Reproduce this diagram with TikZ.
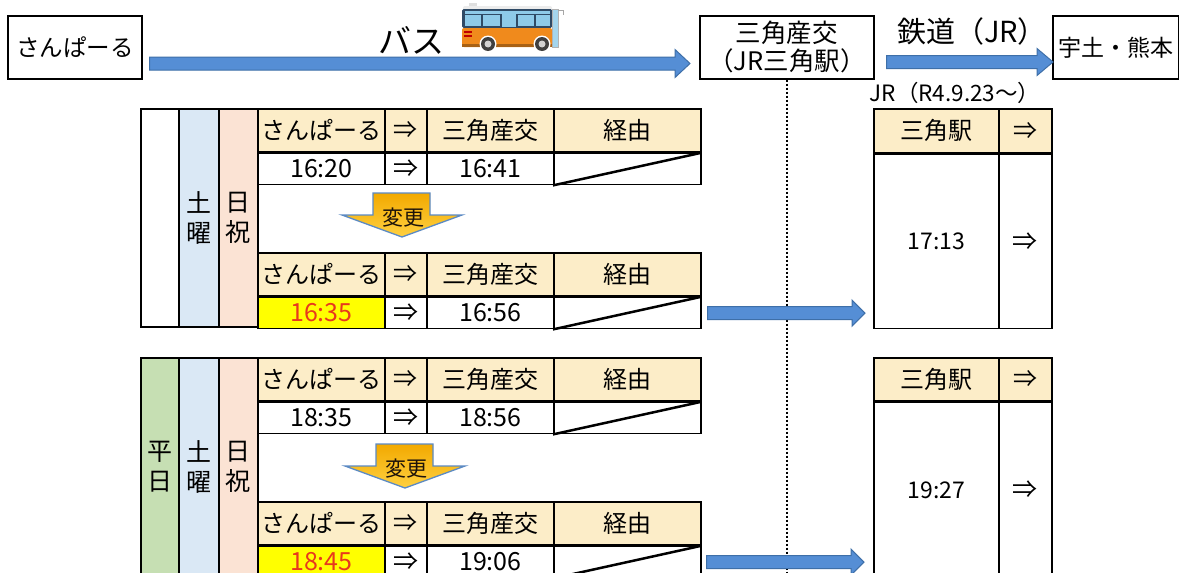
\documentclass[tikz,border=0pt]{standalone}
\usepackage{fontspec}
\setmainfont{Noto Sans CJK JP}
\usetikzlibrary{calc}
\definecolor{hdrbg}{HTML}{FCEDC8}
\definecolor{satbg}{HTML}{DAE8F5}
\definecolor{holbg}{HTML}{FBE3D4}
\definecolor{wkdbg}{HTML}{C6DFB3}
\definecolor{chgbg}{HTML}{FFFF00}
\definecolor{chgtx}{HTML}{E8391D}
\definecolor{arrfill}{HTML}{558ED5}
\definecolor{arredge}{HTML}{3E6FA8}
\definecolor{chgtop}{HTML}{F2A900}
\definecolor{chgbot}{HTML}{FFD040}
\definecolor{chgedge}{HTML}{5B8AC4}
\definecolor{busorange}{HTML}{F08A1C}
\definecolor{buswin}{HTML}{8ECAE9}
\definecolor{busframe}{HTML}{2F4A66}
\tikzset{
  box/.style={draw, line width=1.7pt, inner sep=0pt, anchor=north west},
  fA/.style={font=\fontsize{24pt}{30pt}\selectfont},
  cellbox/.style={box, fA},
  hdr/.style={cellbox, fill=hdrbg, minimum height=43pt},
  trow/.style={cellbox, fill=white, minimum height=31pt, font=\fontsize{25pt}{28pt}\selectfont},
  chg/.style={fill=chgbg, text=chgtx},
  wA/.style={minimum width=127pt},
  wB/.style={minimum width=42pt},
  wC/.style={minimum width=127pt},
  wD/.style={minimum width=147pt},
  diag/.style={line width=2.5pt},
  barrow/.style={draw=arredge, fill=arrfill, line width=1pt},
  dotline/.style={line width=1.8pt, dash pattern=on 2pt off 2pt},
  chgshape/.style={draw=chgedge, line width=1.3pt, top color=chgtop, bottom color=chgbot},
  chgtext/.style={font=\fontsize{21pt}{22pt}\selectfont, text={black!85!brown}},
  sidecol/.style={box, font=\fontsize{25pt}{30pt}\selectfont, align=center, minimum height=218pt}
}
% one header row + one time row of the bus table
\newcommand\fourrow[5]{%
  \node[hdr,wA] (#1h1) at (257,#2) {さんぱーる};
  \node[hdr,wB] (#1h2) at (384,#2) {⇒};
  \node[hdr,wC] (#1h3) at (426,#2) {三角産交};
  \node[hdr,wD] (#1h4) at (553,#2) {経由};
  \node[trow,wA,#5] (#1t1) at (#1h1.south west) {#3};
  \node[trow,wB] (#1t2) at (#1h2.south west) {⇒};
  \node[trow,wC] (#1t3) at (#1h3.south west) {#4};
  \node[trow,wD] (#1t4) at (#1h4.south west) {};
  \draw[diag] (#1t4.south west) -- (#1t4.north east);
}
% block arrow between two named coordinates: shaft half, head half, head length
\newcommand\blockarrow[5]{%
  \path[barrow] let \p1=(#1), \p2=(#2) in
    (\x1,{\y1+#3pt}) -- ({\x2-#5pt},{\y1+#3pt}) -- ({\x2-#5pt},{\y1+#4pt}) -- (\x2,\y1)
    -- ({\x2-#5pt},{\y1-#4pt}) -- ({\x2-#5pt},{\y1-#3pt}) -- (\x1,{\y1-#3pt}) -- cycle;
}
\newcommand\henkoshape{%
  \path[chgshape] (373,193) -- (430,193) -- (430,215) -- (462,215) -- (402,237)
    -- (342,215) -- (373,215) -- cycle;
}
\begin{document}
\begin{tikzpicture}[x=1pt,y=-1pt]
\useasboundingbox (0,0) rectangle (1179,573);
\clip (0,0) rectangle (1179,573);
\fill[white] (0,0) rectangle (1179,573);

% ---------- top row ----------
\node[box, minimum width=134pt, minimum height=63pt, font=\fontsize{23.5pt}{26pt}\selectfont] (sanpal) at (7,15) {さんぱーる};
\node[box, minimum width=174pt, minimum height=63pt, align=center, font=\fontsize{25.5pt}{28pt}\selectfont] (misumi) at (699,15) {三角産交\\（JR三角駅）};
\node[box, minimum width=126pt, minimum height=63pt, font=\fontsize{23pt}{26pt}\selectfont] (uto) at (1052,15) {宇土・熊本};
\node[font=\fontsize{33pt}{36pt}\selectfont] (bustxt) at (411,40) {バス};
\node[font=\fontsize{29pt}{32pt}\selectfont] (railtxt) at (972,31) {鉄道（JR）};
\node[font=\fontsize{22.5pt}{24pt}\selectfont] (jrdate) at (955,93) {JR（R4.9.23～）};

% bus icon
\fill[gray!25] (469,3) rectangle (477,8);
\fill[gray!15, rounded corners=2pt] (463,6) rectangle (552,11);
\fill[busframe, rounded corners=1.5pt] (462,9) rectangle (552,28);
\fill[buswin] (465,11) rectangle (550,13.5);
\fill[buswin] (465,15) rectangle (481,26);
\fill[buswin] (483,15) rectangle (500,26);
\fill[buswin] (502,13) rectangle (516,27);
\fill[buswin] (518,15) rectangle (534,26);
\fill[buswin] (536,15) rectangle (550,26);
\fill[busorange, rounded corners=2pt] (462,28) rectangle (552,47);
\fill[busorange!70!black] (462,44) rectangle (552,47);
\fill[red!75!black] (464,31) rectangle (472,33);
\fill[red!75!black] (464,34.5) rectangle (472,36.5);
\fill[buswin!80!white, draw=gray!60, line width=0.5pt] (552,9) rectangle (558,47);
\draw[gray!70, line width=1pt] (558,10) -- (563,10) -- (563,15);
\fill[white] (488,44) circle (8.5);
\fill[white] (542,44) circle (8.5);
\fill[black!75] (488,44) circle (7);
\fill[black!75] (542,44) circle (7);
\fill[gray!35] (488,44) circle (3.5);
\fill[gray!35] (542,44) circle (3.5);

% dotted line under 三角産交
\coordinate (bottomline) at (0,580);
\draw[dotline] (misumi.south) -- (misumi.south |- bottomline);

% top arrows
\coordinate (busrow) at (0,63.5);
\coordinate (railrow) at (0,62);
\coordinate (busS) at ([xshift=7pt]sanpal.east |- busrow);
\coordinate (busE) at ([xshift=-9pt]misumi.west |- busrow);
\coordinate (railS) at ([xshift=12pt]misumi.east |- railrow);
\coordinate (railE) at ([xshift=1pt]uto.west |- railrow);
\blockarrow{busS}{busE}{6.5}{14}{15}
\blockarrow{railS}{railE}{6.5}{13.5}{16}

% ---------- upper block (土曜・日祝) ----------
\node[sidecol, fill=white, minimum width=38pt] (ucol0) at (140,108) {};
\node[sidecol, fill=satbg, minimum width=40pt] (ucol1) at (178,108) {土\\曜};
\node[sidecol, fill=holbg, minimum width=39pt] (ucol2) at (218,108) {日\\祝};
\fourrow{ua}{108}{16:20}{16:41}{}
\fourrow{ub}{252}{16:35}{16:56}{chg}
\henkoshape
\node[chgtext] (uchg) at (403,218) {変更};

\node[hdr, minimum width=125pt, minimum height=44pt] (rua) at (873,108) {三角駅};
\node[hdr, minimum width=53pt, minimum height=44pt] (rub) at (998,108) {⇒};
\node[trow, minimum width=125pt, minimum height=174pt, font=\fontsize{23pt}{26pt}\selectfont] (ruc) at (rua.south west) {17:13};
\node[trow, minimum width=53pt, minimum height=174pt] (rud) at (rub.south west) {⇒};

\coordinate (uaS) at ([xshift=6pt]ubt4.east);
\coordinate (uaE) at ([xshift=-8pt]ruc.west |- ubt4.east);
\blockarrow{uaS}{uaE}{6.5}{13}{13}

% ---------- lower block (平日・土曜・日祝) ----------
\node[sidecol, fill=wkdbg, minimum width=38pt] (lcol0) at (140,357) {平\\日};
\node[sidecol, fill=satbg, minimum width=40pt] (lcol1) at (178,357) {土\\曜};
\node[sidecol, fill=holbg, minimum width=39pt] (lcol2) at (218,357) {日\\祝};
\fourrow{la}{357}{18:35}{18:56}{}
\fourrow{lb}{501}{18:45}{19:06}{chg}
\begin{scope}[shift={(3,251)}]
\henkoshape
\node[chgtext] (lchg) at (403,218) {変更};
\end{scope}

\node[hdr, minimum width=125pt, minimum height=43pt] (rla) at (873,357) {三角駅};
\node[hdr, minimum width=53pt, minimum height=43pt] (rlb) at (998,357) {⇒};
\node[trow, minimum width=125pt, minimum height=175pt, font=\fontsize{23pt}{26pt}\selectfont] (rlc) at (rla.south west) {19:27};
\node[trow, minimum width=53pt, minimum height=175pt] (rld) at (rlb.south west) {⇒};

\coordinate (laS) at ([xshift=5pt]lbt4.east);
\coordinate (laE) at ([xshift=-9pt]rlc.west |- lbt4.east);
\blockarrow{laS}{laE}{6.5}{13}{13}
\end{tikzpicture}
\end{document}
